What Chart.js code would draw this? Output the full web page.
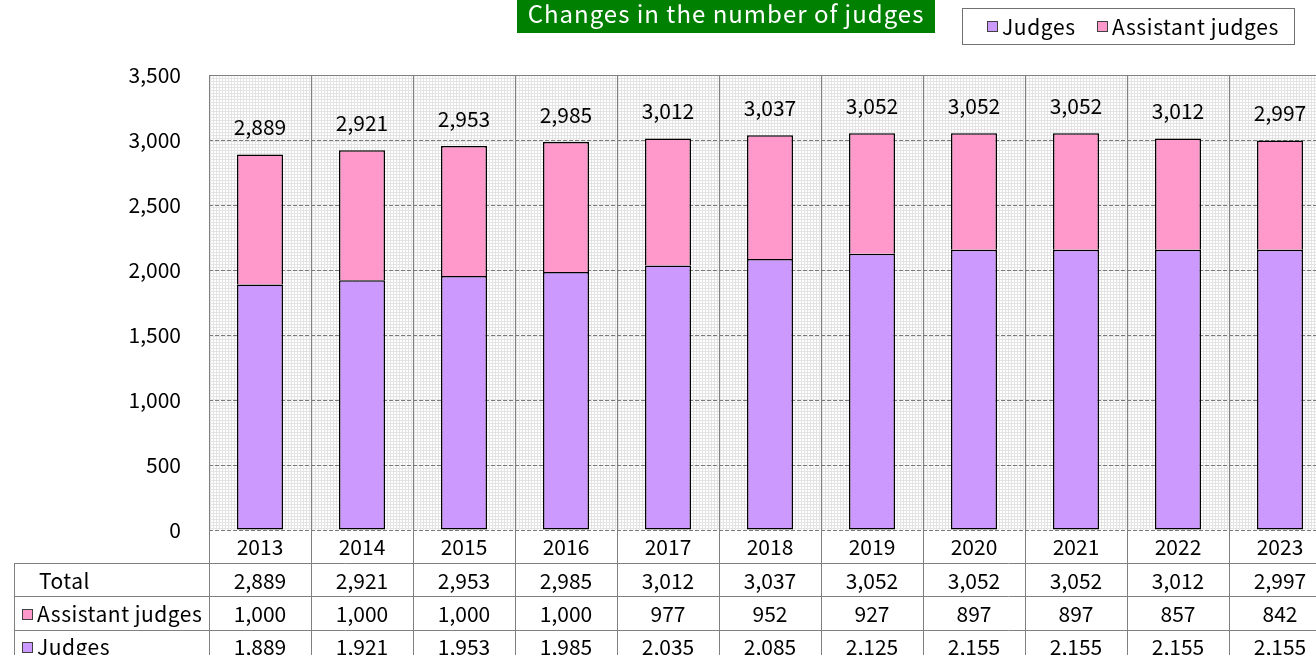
<!DOCTYPE html>
<html>
<head>
<meta charset="utf-8">
<script src="https://cdn.jsdelivr.net/npm/chart.js@4.4.0/dist/chart.umd.min.js"></script>
<style>
  html, body { margin: 0; padding: 0; background: #fff; overflow: hidden; }
  #wrap { width: 1340px; height: 655px; }
</style>
</head>
<body>
<div id="wrap"><canvas id="chart" width="1340" height="655"></canvas></div>
<script>
const years = ['2013', '2014', '2015', '2016', '2017', '2018', '2019', '2020', '2021', '2022', '2023'];
const judges = [1889, 1921, 1953, 1985, 2035, 2085, 2125, 2155, 2155, 2155, 2155];
const assistantJudges = [1000, 1000, 1000, 1000, 977, 952, 927, 897, 897, 857, 842];
const totals = [2889, 2921, 2953, 2985, 3012, 3037, 3052, 3052, 3052, 3012, 2997];
const yMax = 3500;
const yStep = 500;

const FONT = '"Noto Sans CJK JP", "Noto Sans", sans-serif';
const PURPLE = '#CC99FF';
const PINK = '#FF99CC';
const LINE = '#808080';

const fmt = v => v.toLocaleString('en-US');

// light mesh in the plot background
function makePattern(ctx) {
    const c = document.createElement('canvas');
    c.width = 3; c.height = 3;
    const p = c.getContext('2d');
    p.fillStyle = '#ffffff';
    p.fillRect(0, 0, 3, 3);
    p.fillStyle = '#e3e3e3';
    p.fillRect(0, 0, 3, 1);
    p.fillRect(0, 0, 1, 3);
    return ctx.createPattern(c, 'repeat');
}

// little square used in legend and table
function swatch(ctx, x, y, color) {
    ctx.fillStyle = color;
    ctx.fillRect(x, y, 10, 10);
    ctx.strokeStyle = '#404040';
    ctx.lineWidth = 1;
    ctx.strokeRect(x + 0.5, y + 0.5, 10, 10);
}

const decor = {
    id: 'decor',
    beforeDraw(chart) {
        const { ctx, chartArea: a } = chart;
        ctx.save();
        ctx.fillStyle = makePattern(ctx);
        ctx.fillRect(a.left, a.top, a.right - a.left, a.bottom - a.top);
        ctx.restore();
    },
    afterDatasetsDraw(chart) {
        const { ctx, chartArea: a } = chart;
        const x = chart.scales.x, y = chart.scales.y;
        ctx.save();
        // plot frame
        ctx.strokeStyle = LINE;
        ctx.lineWidth = 1;
        ctx.beginPath();
        ctx.moveTo(a.left + 0.5, a.bottom);
        ctx.lineTo(a.left + 0.5, a.top + 0.5);
        ctx.lineTo(a.right, a.top + 0.5);
        ctx.stroke();
        // totals above bars
        ctx.fillStyle = '#000';
        ctx.font = '21px ' + FONT;
        ctx.textAlign = 'center';
        ctx.textBaseline = 'middle';
        totals.forEach((t, i) => {
            ctx.fillText(fmt(t), x.getPixelForValue(i), y.getPixelForValue(t) - 27);
        });
        ctx.restore();
    },
    afterDraw(chart) {
        const { ctx, chartArea: a, width } = chart;
        const x = chart.scales.x;
        const n = years.length;
        const colW = (a.right - a.left) / n;
        const rowTop = a.bottom + 33;
        const rowH = 33.3;
        const rows = [
            { label: 'Total', values: totals, color: null },
            { label: 'Assistant judges', values: assistantJudges, color: PINK },
            { label: 'Judges', values: judges, color: PURPLE }
        ];
        ctx.save();
        ctx.strokeStyle = LINE;
        ctx.lineWidth = 1;
        ctx.beginPath();
        for (let i = 0; i <= n; i++) {
            const bx = Math.round(a.left + i * colW) + 0.5;
            ctx.moveTo(bx, a.bottom);
            ctx.lineTo(bx, rowTop + rowH * 3 + 2);
        }
        ctx.moveTo(14.5, rowTop);
        ctx.lineTo(14.5, rowTop + rowH * 3 + 2);
        for (let r = 0; r < 3; r++) {
            const hy = Math.round(rowTop + r * rowH) + 0.5;
            ctx.moveTo(14, hy);
            ctx.lineTo(width, hy);
        }
        ctx.stroke();

        ctx.fillStyle = '#000';
        ctx.font = '21px ' + FONT;
        ctx.textBaseline = 'middle';
        ctx.textAlign = 'center';
        years.forEach((yr, i) => ctx.fillText(yr, x.getPixelForValue(i), a.bottom + 17));
        rows.forEach((row, r) => {
            const cy = rowTop + r * rowH + rowH / 2 + 1;
            ctx.textAlign = 'center';
            ctx.fillStyle = '#000';
            ctx.letterSpacing = '0px';
            row.values.forEach((v, i) => ctx.fillText(fmt(v), x.getPixelForValue(i), cy));
            ctx.textAlign = 'left';
            ctx.letterSpacing = '0.5px';
            if (row.color) {
                swatch(ctx, 22, Math.round(cy) - 5, row.color);
                ctx.fillStyle = '#000';
                ctx.fillText(row.label, 37, cy);
            } else {
                ctx.fillText(row.label, 39, cy);
            }
        });

        // title
        ctx.fillStyle = '#008000';
        ctx.fillRect(517, 0, 418, 33);
        ctx.fillStyle = '#fff';
        ctx.font = '24px ' + FONT;
        ctx.letterSpacing = '1px';
        ctx.textAlign = 'center';
        ctx.fillText('Changes in the number of judges', 726, 14);

        // legend
        ctx.strokeStyle = '#707070';
        ctx.strokeRect(962.5, 8.5, 332, 36);
        ctx.font = '21px ' + FONT;
        ctx.letterSpacing = '0.6px';
        ctx.textAlign = 'left';
        swatch(ctx, 987, 21, PURPLE);
        ctx.fillStyle = '#000';
        ctx.fillText('Judges', 1002, 27);
        swatch(ctx, 1097, 21, PINK);
        ctx.fillStyle = '#000';
        ctx.fillText('Assistant judges', 1112, 27);
        ctx.restore();
    }
};

new Chart(document.getElementById('chart'), {
    type: 'bar',
    data: {
        labels: years,
        datasets: [
            {
                label: 'Judges',
                data: judges,
                backgroundColor: PURPLE,
                borderColor: '#000',
                borderWidth: 1.5,
                borderSkipped: false
            },
            {
                label: 'Assistant judges',
                data: assistantJudges,
                backgroundColor: PINK,
                borderColor: '#000',
                borderWidth: 1.5,
                borderSkipped: 'start' // the purple bar already draws this edge
            }
        ]
    },
    options: {
        responsive: false,
        animation: false,
        devicePixelRatio: 1,
        layout: { padding: { left: 0, top: 75, right: 9, bottom: 92 } },
        datasets: { bar: { barPercentage: 46 / 102, categoryPercentage: 1 } },
        scales: {
            x: {
                stacked: true,
                grid: { color: LINE, offset: true, drawTicks: false },
                border: { display: false },
                ticks: { display: false },
                afterFit: s => { s.height = 33; }
            },
            y: {
                stacked: true,
                min: 0,
                max: yMax,
                grid: { color: '#7a7a7a', drawTicks: false },
                border: { display: false, dash: [4, 2] },
                ticks: {
                    stepSize: yStep,
                    padding: 28,
                    color: '#000',
                    font: { family: FONT, size: 21 },
                    callback: v => fmt(v)
                },
                afterFit: s => { s.width = 209; }
            }
        },
        plugins: {
            legend: { display: false },
            tooltip: { enabled: false }
        }
    },
    plugins: [decor]
});
</script>
</body>
</html>
